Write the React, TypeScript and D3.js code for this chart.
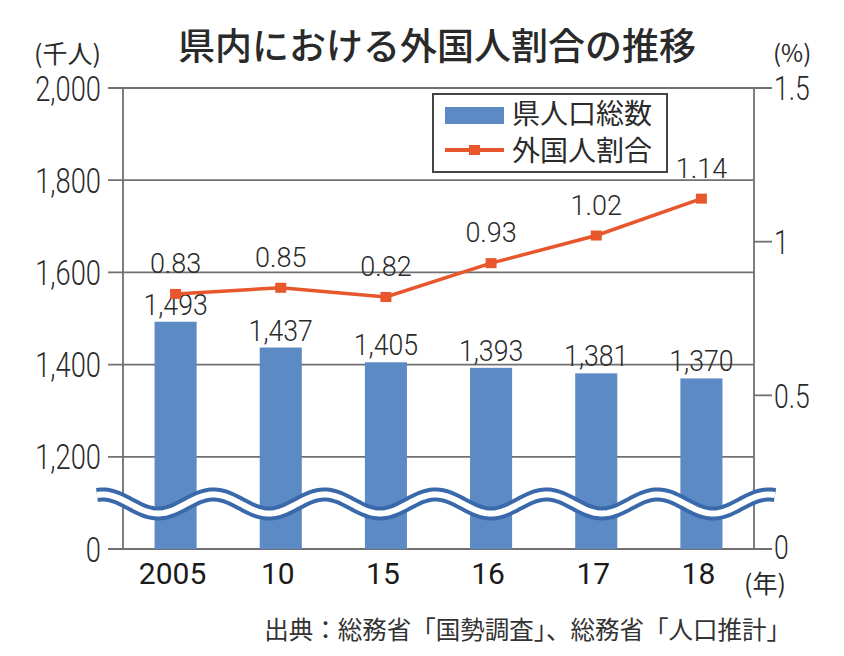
import React from "react";
import * as d3 from "d3";

const categories = ["2005", "10", "15", "16", "17", "18"];
const population = [1493, 1437, 1405, 1393, 1381, 1370];
const populationLabels = ["1,493", "1,437", "1,405", "1,393", "1,381", "1,370"];
const foreignRatio = [0.83, 0.85, 0.82, 0.93, 1.02, 1.14];
const foreignRatioLabels = ["0.83", "0.85", "0.82", "0.93", "1.02", "1.14"];
const leftTickValues = [1000, 1200, 1400, 1600, 1800, 2000];
const leftTickLabels = ["0", "1,200", "1,400", "1,600", "1,800", "2,000"];
const rightTickValues = [0, 0.5, 1, 1.5];
const rightTickLabels = ["0", "0.5", "1", "1.5"];
const title = "県内における外国人割合の推移";
const legendBar = "県人口総数";
const legendLine = "外国人割合";
const source = "出典：総務省「国勢調査」、総務省「人口推計」";

const W = 844;
const H = 656;
const plotL = 123;
const plotR = 754;
const plotT = 88;
const plotB = 549;

const BAR = "#5b8ac4";
const WAVE = "#3a69ab";
const LINE = "#e8562b";
const GRID = "#707070";
const TEXT = "#2a2a2a";
const JP = "'Noto Sans CJK JP', 'Noto Sans', sans-serif";
const NUM = "Roboto, 'Liberation Sans', sans-serif";

export default function App() {
  const x = d3
    .scaleBand<string>()
    .domain(categories)
    .range([plotL, plotR])
    .paddingInner(0.6)
    .paddingOuter(0.3);
  const yL = d3.scaleLinear().domain([1000, 2000]).range([plotB, plotT]);
  const yR = d3.scaleLinear().domain([0, 1.5]).range([plotB, plotT]);
  const cx = (c: string) => (x(c) as number) + x.bandwidth() / 2;

  const linePath = d3
    .line<number>()
    .x((_, i) => cx(categories[i]))
    .y((v) => yR(v))(foreignRatio) as string;

  // decorative axis-break wave
  const waveX0 = 97;
  const waveX1 = 776;
  const wavePts = d3.range(waveX0, waveX1 + 0.5, 2).map((px) => [
    px,
    504 - 9.5 * Math.cos((2 * Math.PI * (px - 102.5)) / 111),
  ] as [number, number]);
  const wavePath = d3.line()(wavePts) as string;

  return (
    <svg
      width={W}
      height={H}
      style={{ position: "absolute", left: 0, top: 0, background: "#fff" }}
    >
      <rect x={0} y={0} width={W} height={H} fill="#fff" />
      {/* title */}
      <text
        x={437}
        y={60}
        textAnchor="middle"
        fontFamily={JP}
        fontSize={37}
        fontWeight={500}
        fill={TEXT}
      >
        {title}
      </text>
      <text x={34} y={63} fontFamily={JP} fontSize={25} fill={TEXT}>
        (千人)
      </text>
      <text x={773} y={62} fontFamily={JP} fontSize={24} fill={TEXT}>
        (%)
      </text>

      {/* gridlines + left ticks */}
      {leftTickValues.map((v) => (
        <line
          key={"g" + v}
          x1={108}
          x2={v === 2000 || v === 1000 ? 772 : plotR}
          y1={yL(v)}
          y2={yL(v)}
          stroke={GRID}
          strokeWidth={1.8}
        />
      ))}
      {/* right ticks */}
      {rightTickValues.map((v) => (
        <line
          key={"rt" + v}
          x1={plotR}
          x2={772}
          y1={yR(v)}
          y2={yR(v)}
          stroke={GRID}
          strokeWidth={1.8}
        />
      ))}
      <line x1={plotL} x2={plotL} y1={plotT} y2={plotB} stroke={GRID} strokeWidth={1.8} />
      <line x1={plotR} x2={plotR} y1={plotT} y2={plotB} stroke={GRID} strokeWidth={1.8} />

      {/* left labels */}
      {leftTickValues.map((v, i) => (
        <text
          key={"ll" + v}
          transform={`translate(101,${yL(v)}) scale(0.78,1)`}
          textAnchor="end"
          dy="0.36em"
          fontFamily={NUM}
          fontWeight={300}
          fontSize={35}
          fill={TEXT}
        >
          {leftTickLabels[i]}
        </text>
      ))}
      {/* right labels */}
      {rightTickValues.map((v, i) => (
        <text
          key={"rl" + v}
          transform={`translate(774,${yR(v) - (v === 0 ? 2 : 0)}) scale(0.78,1)`}
          textAnchor="start"
          dy="0.36em"
          fontFamily={NUM}
          fontWeight={300}
          fontSize={34}
          fill={TEXT}
        >
          {rightTickLabels[i]}
        </text>
      ))}

      {/* bars */}
      {population.map((v, i) => (
        <rect
          key={"b" + i}
          x={x(categories[i])}
          y={yL(v)}
          width={x.bandwidth()}
          height={plotB - yL(v)}
          fill={BAR}
        />
      ))}
      {/* bar labels */}
      {population.map((v, i) => (
        <text
          key={"bl" + i}
          transform={`translate(${cx(categories[i])},${yL(v) - 7}) scale(0.92,1)`}
          textAnchor="middle"
          fontFamily={NUM}
          fontWeight={300}
          fontSize={29}
          fill={TEXT}
        >
          {populationLabels[i]}
        </text>
      ))}

      {/* wave break */}
      <path d={wavePath} fill="none" stroke={WAVE} strokeWidth={14} />
      <path d={wavePath} fill="none" stroke="#fff" strokeWidth={6} />

      {/* line */}
      <path d={linePath} fill="none" stroke={LINE} strokeWidth={3.5} />
      {foreignRatio.map((v, i) => (
        <rect
          key={"m" + i}
          x={cx(categories[i]) - 5.5}
          y={yR(v) - 5}
          width={11}
          height={10}
          fill={LINE}
        />
      ))}
      {foreignRatio.map((v, i) => (
        <text
          key={"ml" + i}
          x={cx(categories[i])}
          y={yR(v) - 21}
          textAnchor="middle"
          fontFamily={NUM}
          fontWeight={300}
          fontSize={27}
          fill={TEXT}
        >
          {foreignRatioLabels[i]}
        </text>
      ))}

      {/* x labels */}
      {categories.map((c) => (
        <text
          key={"x" + c}
          x={cx(c) - 3}
          y={584}
          textAnchor="middle"
          fontFamily={NUM}
          fontWeight={400}
          fontSize={30}
          fill="#1a1a1a"
        >
          {c}
        </text>
      ))}
      <text x={744} y={593} fontFamily={JP} fontSize={25} fill={TEXT}>
        (年)
      </text>

      {/* legend */}
      <rect x={433} y={94} width={234} height={78} fill="#fff" stroke="#444" strokeWidth={2} />
      <rect x={445} y={107} width={59} height={17} fill={BAR} />
      <text x={512} y={124} fontFamily={JP} fontSize={28} fill={TEXT}>
        {legendBar}
      </text>
      <line x1={445} x2={504} y1={150} y2={150} stroke={LINE} strokeWidth={4} />
      <rect x={469} y={145} width={11} height={10} fill={LINE} />
      <text x={512} y={161} fontFamily={JP} fontSize={28} fill={TEXT}>
        {legendLine}
      </text>

      {/* source */}
      <text x={791} y={639} textAnchor="end" fontFamily={JP} fontSize={24.5} fill="#333">
        {source}
      </text>
    </svg>
  );
}
